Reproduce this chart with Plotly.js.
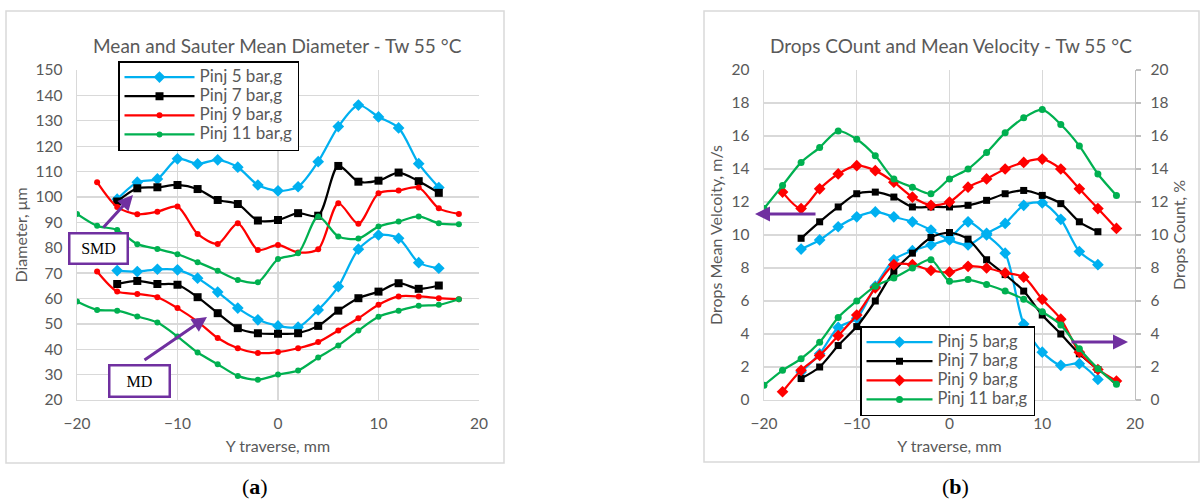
<!DOCTYPE html>
<html>
<head>
<meta charset="utf-8">
<script src="https://cdn.plot.ly/plotly-3.0.1.min.js"></script>
<style>html,body{margin:0;padding:0;background:#fff;}#chart{width:1202px;height:504px;}</style>
</head>
<body>
<div id="chart"></div>
<script>
// ---------- data ----------
const seriesNames = ["Pinj 5 bar,g", "Pinj 7 bar,g", "Pinj 9 bar,g", "Pinj 11 bar,g"];
const x5 = [-16,-14,-12,-10,-8,-6,-4,-2,0,2,4,6,8,10,12,14,16];
const x7 = [-16,-14,-12,-10,-8,-6,-4,-2,0,2,4,6,8,10,12,14,16];
const x9 = [-18,-16,-14,-12,-10,-8,-6,-4,-2,0,2,4,6,8,10,12,14,16,18];
const x11 = [-20,-18,-16,-14,-12,-10,-8,-6,-4,-2,0,2,4,6,8,10,12,14,16,18];

// (a) Sauter mean diameter (SMD) and mean diameter (MD), µm
const smd5 = [99.1,105.8,107.1,115,113,114.6,111.7,104.7,102.4,104,113.9,127.7,136.2,131.5,127.2,113.1,103.7];
const smd7 = [98.2,103.4,103.8,104.7,103.1,98.8,97.2,90.7,90.9,93.6,92.6,112.2,106,106.4,109.6,106.2,101.6];
const smd9 = [105.8,96,93.2,94.2,96.2,85.4,81.5,89.6,79.1,81.1,78.1,79.4,97.5,89.4,101.4,102.5,103.7,95.5,93.3];
const smd11 = [93.3,88.6,87,81.4,79.5,77.4,74.3,70.9,67.3,66.4,75.5,77.8,92.3,84.4,83.6,88.3,90.3,92.3,89.6,89.2];
const md5 = [71.0,70.6,71.5,71.3,68.0,62.5,56.2,51.6,49.2,48.7,55.5,64.7,79.4,85.0,83.7,74.1,71.9];
const md7 = [65.7,66.9,65.7,65.4,60.5,54.2,48.3,46.3,46.1,46.3,49.2,55.2,60.1,62.7,66.0,63.8,65.1];
const md9 = [70.6,62.7,61.8,60.5,56.2,50.9,44.4,40.4,38.5,38.9,40.4,42.8,47.4,52.2,57.5,60.8,60.8,60.1,59.7];
const md11 = [58.8,55.5,55.2,52.9,50.5,45.0,38.7,34.1,29.5,28.0,30.0,31.6,36.7,41.5,47.4,52.8,55.2,57.1,57.5,59.7];

// (b) drops mean velocity (m/s) and drops count (%)
const vel5 = [9.15,9.7,10.5,11.1,11.4,11.1,10.8,10.3,9.7,9.4,10.1,10.7,11.8,11.95,10.95,9.0,8.2];
const vel7 = [9.8,10.8,11.7,12.5,12.6,12.3,11.7,11.7,11.7,11.8,12.1,12.5,12.7,12.4,11.9,10.8,10.2];
const vel9 = [12.6,11.6,12.8,13.7,14.2,13.9,13.2,12.3,11.8,12.0,12.9,13.4,14.0,14.4,14.6,14.0,12.8,11.6,10.4];
const vel11 = [11.6,13.0,14.4,15.3,16.3,15.8,14.8,13.4,12.9,12.5,13.4,14.0,15.0,16.2,17.1,17.6,16.7,15.4,13.7,12.4];
const cnt5 = [1.7,2.8,4.4,4.95,6.9,8.5,9.05,9.4,9.8,10.8,10.0,8.9,4.6,2.9,2.1,2.2,1.25];
const cnt7 = [1.3,2.0,3.3,4.45,6.0,7.8,8.9,9.85,10.15,9.75,8.5,7.6,6.6,5.15,4.0,2.8,1.85];
const cnt9 = [0.5,1.8,2.7,3.9,5.15,6.8,8.2,8.2,7.85,7.75,8.1,8.0,7.7,7.45,6.1,4.9,2.9,1.85,1.15];
const cnt11 = [0.9,1.8,2.5,3.5,5.0,6.0,6.9,7.4,8.0,8.5,7.2,7.3,7.0,6.6,6.1,5.35,4.55,3.1,1.9,0.95];

// ---------- styles ----------
const W = 1202, H = 504;
const px = v => v / W;
const py = v => 1 - v / H;
const FONT = "Lato, 'Open Sans', sans-serif";
const GREY = "#595959";
const GRID = "#D9D9D9";
const colors = ["#00B0F0", "#000000", "#FF0000", "#00B050"];
const symA = ["diamond", "square", "circle", "circle"];
const sizeA = [9, 8, 6, 6];
const symB = ["diamond", "square", "diamond", "circle"];
const sizeB = [9, 7, 9, 7];
const xs = [x5, x7, x9, x11];
const legName = (n, s) => '<span style="font-size:' + s + 'px">' + n + '</span>';

function line(x, y, i, opts) {
  return Object.assign({
    type: "scatter", mode: "lines+markers", x: x, y: y, name: seriesNames[i],
    line: {color: colors[i], width: 2.25, shape: "spline", smoothing: 0.8},
    marker: {color: colors[i], symbol: opts.sym[i], size: opts.size[i]},
    hoverinfo: "x+y"
  }, opts.extra);
}

const traces = [];
[smd5, smd7, smd9, smd11].forEach((y, i) => traces.push(line(xs[i], y, i, {sym: symA, size: sizeA, extra: {xaxis: "x", yaxis: "y", legend: "legend", showlegend: true, name: legName(seriesNames[i], 17)}})));
[md5, md7, md9, md11].forEach((y, i) => traces.push(line(xs[i], y, i, {sym: symA, size: sizeA, extra: {xaxis: "x", yaxis: "y", showlegend: false}})));
[vel5, vel7, vel9, vel11].forEach((y, i) => traces.push(line(xs[i], y, i, {sym: symB, size: sizeB, extra: {xaxis: "x2", yaxis: "y2", showlegend: false}})));
[cnt5, cnt7, cnt9, cnt11].forEach((y, i) => traces.push(line(xs[i], y, i, {sym: symB, size: sizeB, extra: {xaxis: "x2", yaxis: "y3", legend: "legend2", showlegend: true, name: legName(seriesNames[i], 16.5)}})));

const tickFont = {family: FONT, size: 15.5, color: GREY};
const titleFont = {family: FONT, size: 16, color: GREY};
const legFont = {family: FONT, size: 12.4, color: GREY};
const yDom = [py(400), py(70)];

function ann(x, y, text, font, extra) {
  return Object.assign({xref: "paper", yref: "paper", x: px(x), y: py(y), xanchor: "center", yanchor: "middle",
    text: text, showarrow: false, font: font}, extra || {});
}
function arrow(hx, hy, ax, ay) {
  return {xref: "paper", yref: "paper", x: px(hx), y: py(hy), ax: ax, ay: ay, text: "", showarrow: true,
    arrowhead: 2, arrowsize: 1, arrowwidth: 3, arrowcolor: "#7030A0"};
}

const layout = {
  width: W, height: H,
  margin: {l: 0, r: 0, t: 0, b: 0},
  paper_bgcolor: "#fff", plot_bgcolor: "#fff",
  font: {family: FONT, color: GREY},
  xaxis: {domain: [px(77), px(479)], range: [-20, 20], dtick: 10, tick0: 0, anchor: "y",
    showgrid: true, gridcolor: GRID, gridwidth: 1.3, zeroline: false, showline: true, linecolor: GRID, linewidth: 1.3,
    ticks: "", tickfont: tickFont, ticklabelstandoff: 9,
    title: {text: "Y traverse, mm", font: titleFont, standoff: 10}},
  yaxis: {domain: yDom, range: [20, 150], dtick: 10, anchor: "x",
    showgrid: true, gridcolor: GRID, gridwidth: 1.3, zeroline: false, showline: true, linecolor: GRID, linewidth: 1.3,
    ticks: "", tickfont: tickFont, ticklabelstandoff: 10,
    title: {text: "Diameter, μm", font: titleFont, standoff: 4}},
  xaxis2: {domain: [px(764), px(1135)], range: [-20, 20], dtick: 10, tick0: 0, anchor: "y2",
    showgrid: true, gridcolor: GRID, gridwidth: 1.3, zeroline: false, showline: true, linecolor: GRID, linewidth: 1.3,
    ticks: "", tickfont: tickFont, ticklabelstandoff: 9,
    title: {text: "Y traverse, mm", font: titleFont, standoff: 10}},
  yaxis2: {domain: yDom, range: [0, 20], dtick: 2, anchor: "x2",
    showgrid: true, gridcolor: GRID, gridwidth: 1.3, zeroline: false, showline: true, linecolor: GRID, linewidth: 1.3,
    ticks: "", tickfont: tickFont, ticklabelstandoff: 10,
    title: {text: "Drops Mean Velcoity, m/s", font: titleFont, standoff: 5}},
  yaxis3: {range: [0, 20], dtick: 2, anchor: "x2", overlaying: "y2", side: "right",
    showgrid: false, zeroline: false, showline: true, linecolor: "#BFBFBF", linewidth: 1.3,
    ticks: "outside", ticklen: 5, tickcolor: "#BFBFBF", tickwidth: 1.3, tickfont: tickFont, ticklabelstandoff: 6,
    title: {text: "Drops Count, %", font: titleFont, standoff: 6}},
  showlegend: true,
  legend: {x: px(118), y: py(61), xanchor: "left", yanchor: "top", bgcolor: "#fff",
    bordercolor: "#000", borderwidth: 1.5, font: legFont, tracegroupgap: 0, itemwidth: 70},
  legend2: {x: px(860), y: py(326), xanchor: "left", yanchor: "top", bgcolor: "#fff",
    bordercolor: "#000", borderwidth: 1.5, font: legFont, tracegroupgap: 0, itemwidth: 66},
  shapes: [
    {type: "rect", xref: "paper", yref: "paper", x0: px(6), x1: px(504), y0: py(463), y1: py(11), line: {color: GRID, width: 1.5}, layer: "below"},
    {type: "rect", xref: "paper", yref: "paper", x0: px(704), x1: px(1199), y0: py(462), y1: py(11), line: {color: GRID, width: 1.5}, layer: "below"}
  ],
  annotations: [
    ann(277, 45, "Mean and Sauter Mean Diameter - Tw 55 °C", {family: FONT, size: 19, color: GREY}),
    ann(951, 45, "Drops COunt and Mean Velocity - Tw 55 °C", {family: FONT, size: 19, color: GREY}),
    ann(255, 486, "(<b>a</b>)", {family: "'Liberation Serif', serif", size: 22, color: "#000"}),
    ann(955, 486, "(<b>b</b>)", {family: "'Liberation Serif', serif", size: 22, color: "#000"}),
    arrow(133, 195, -31, 34),
    arrow(207, 317, -64, 44),
    arrow(755, 214, 62, 0),
    arrow(1128, 342, -58, 0),
    ann(98, 248, "SMD", {family: "'Liberation Serif', serif", size: 16, color: "#000"},
      {width: 56, height: 28, borderpad: 0, bordercolor: "#7030A0", borderwidth: 2.5, bgcolor: "#fff"}),
    ann(139, 380.5, "MD", {family: "'Liberation Serif', serif", size: 16, color: "#000"},
      {width: 58, height: 29, borderpad: 0, bordercolor: "#7030A0", borderwidth: 2.5, bgcolor: "#fff"})
  ]
};

Plotly.newPlot("chart", traces, layout, {displayModeBar: false, staticPlot: true});
</script>
</body>
</html>
